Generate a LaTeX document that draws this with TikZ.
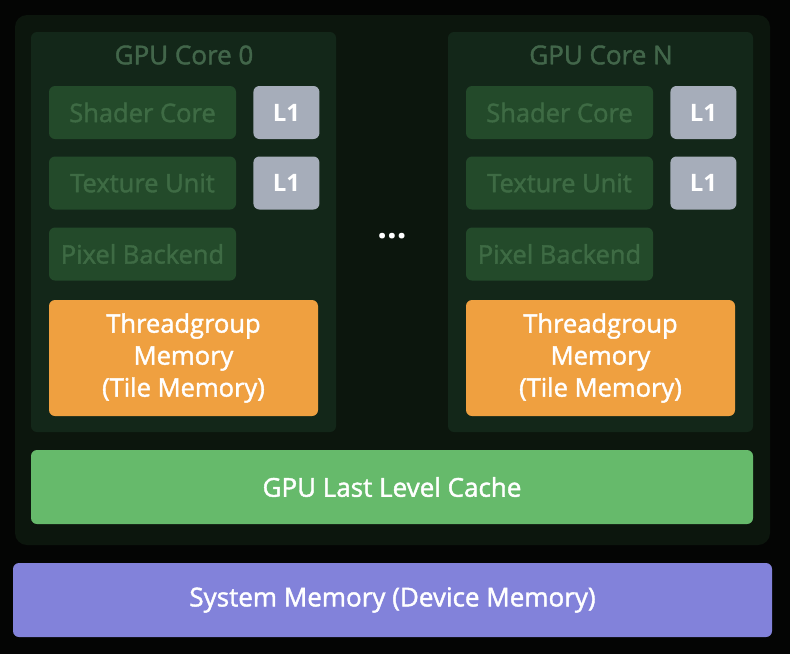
\documentclass[tikz,border=0pt]{standalone}
\usepackage{fontspec}
\setmainfont{Open Sans}[UprightFeatures={FakeBold=1.6}]
\usetikzlibrary{positioning}

\definecolor{bgcol}{HTML}{040504}
\definecolor{outercol}{HTML}{0C160D}
\definecolor{panelcol}{HTML}{132719}
\definecolor{unitcol}{HTML}{234A2A}
\definecolor{dimtext}{HTML}{3E6B44}
\definecolor{titletext}{HTML}{42664A}
\definecolor{lonecol}{HTML}{A6ADBA}
\definecolor{tilecol}{HTML}{EFA040}
\definecolor{cachecol}{HTML}{66BA6B}
\definecolor{syscol}{HTML}{8282DA}

\tikzset{
    box/.style={rounded corners=6pt, inner sep=0pt, align=center},
    unit/.style={box, fill=unitcol, text=dimtext, minimum width=187pt, minimum height=53pt, font=\fontsize{25.5}{28}\selectfont},
    lone/.style={box, fill=lonecol, text=white, minimum width=66pt, minimum height=53pt, font=\fontsize{24}{28}\selectfont\bfseries},
    tile/.style={box, fill=tilecol, text=white, minimum width=269pt, minimum height=116pt, font=\fontsize{25.5}{32}\selectfont},
}

\begin{document}
\begin{tikzpicture}[x=1pt,y=-1pt]

    % Background and outer frame
    \fill[bgcol] (0,0) rectangle (790,654);
    \useasboundingbox (0,0) rectangle (790,654);
    \fill[outercol, rounded corners=12pt] (15,15) rectangle (770,545);

    % Draw the two GPU cores
    \foreach \c/\x in {0/31, N/448} {
        \fill[panelcol, rounded corners=6pt] (\x,32) rectangle (\x+305,432);
        \node[text=titletext, font=\fontsize{26}{28}\selectfont] (title\c) at (\x+153,55) {GPU Core \c};

        % units and their L1 caches
        \node[unit] (shader\c) at (\x+111.5,112.5) {Shader Core};
        \node[unit] (texture\c) at (\x+111.5,183) {Texture Unit};
        \node[unit] (pixel\c) at (\x+111.5,254) {Pixel Backend};
        \node[lone, right=17pt of shader\c] (lones\c) {L1};
        \node[lone, right=17pt of texture\c] (lonet\c) {L1};

        % threadgroup memory
        \node[tile] (tile\c) at (\x+152.5,358) {Threadgroup\\Memory\\(Tile Memory)};
    }

    % Dots between the cores
    \node[text=white, font=\fontsize{34}{34}\selectfont\bfseries] (dots) at (392,236) {...};

    % Caches and memory
    \node[box, fill=cachecol, text=white, minimum width=722pt, minimum height=74pt, font=\fontsize{26}{28}\selectfont] (llc) at (392,487) {GPU Last Level Cache};
    \node[box, fill=syscol, text=white, minimum width=759pt, minimum height=74pt, font=\fontsize{26}{28}\selectfont] (sysmem) at (392.5,600) {System Memory (Device Memory)};

\end{tikzpicture}
\end{document}
